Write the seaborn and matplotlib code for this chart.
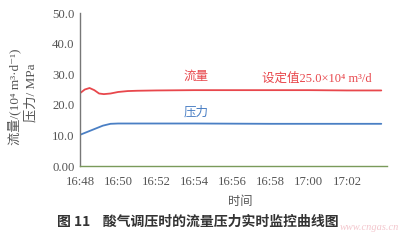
import matplotlib
matplotlib.use("Agg")
import matplotlib.pyplot as plt
import seaborn as sns
import pandas as pd

# data (minutes after 16:48)
flow_t = [0, 0.25, 0.5, 0.75, 1.0, 1.25, 1.6, 2.0, 2.5, 3.0, 4.0, 6.0, 8.0, 10.0, 12.0, 14.0, 15.8]
flow_v = [23.8, 25.0, 25.5, 24.8, 23.7, 23.5, 23.7, 24.2, 24.5, 24.6, 24.7, 24.8, 24.8, 24.8, 24.8, 24.7, 24.7]
press_t = [0, 0.4, 0.8, 1.2, 1.6, 2.0, 3.0, 6.0, 10.0, 15.8]
press_v = [10.2, 11.2, 12.2, 13.2, 13.8, 13.9, 13.9, 13.9, 13.8, 13.8]
xtick_pos = [0, 2, 4, 6, 8, 10, 12, 14]
xtick_labels = ["16:48", "16:50", "16:52", "16:54", "16:56", "16:58", "17:00", "17:02"]
ytick_pos = [0, 10, 20, 30, 40, 50]
ytick_labels = ["0.00", "10.0", "20.0", "30.0", "40.0", "50.0"]

sns.set_theme(style="white")
plt.rcParams['font.family'] = ['Liberation Serif', 'Noto Sans CJK SC', 'DejaVu Sans']

red = "#e8474c"
blue = "#4a7fc4"
txt = "#555555"

fig = plt.figure(figsize=(4.0, 2.41), dpi=100)
ax = fig.add_axes([0.2, 0.311, 0.7675, 0.635])

df_f = pd.DataFrame({"t": flow_t, "v": flow_v})
df_p = pd.DataFrame({"t": press_t, "v": press_v})
sns.lineplot(data=df_f, x="t", y="v", ax=ax, color=red, lw=1.3, sort=False, estimator=None)
sns.lineplot(data=df_p, x="t", y="v", ax=ax, color=blue, lw=1.3, sort=False, estimator=None)

ax.set_xlim(0, 16.1)
ax.set_ylim(0, 50)
ax.set_xticks(xtick_pos)
ax.set_xticklabels(xtick_labels)
ax.set_yticks(ytick_pos)
ax.set_yticklabels(ytick_labels)
ax.tick_params(axis='both', direction='in', length=4, width=0.8, labelsize=9.2,
               colors="#666666", labelcolor=txt, pad=4)
ax.tick_params(axis='x', pad=7)
for s in ["top", "right"]:
    ax.spines[s].set_visible(False)
ax.spines["left"].set_color("#777777")
ax.spines["bottom"].set_color("#7a9a5a")
ax.spines["left"].set_linewidth(1.0)
ax.spines["bottom"].set_linewidth(1.0)
ax.set_xlabel("")
ax.set_ylabel("")

fig.text(0.6, 1 - 201 / 241, "时间", ha="center", va="center", fontsize=8.8, color=txt,
         family=['Noto Sans CJK SC', 'DejaVu Sans'])
fig.text(0.036, 0.598, "流量/(10⁴ m³·d⁻¹)", rotation=90, ha="center", va="center",
         fontsize=9.5, color=txt)
fig.text(0.079, 0.615, "压力/ MPa", rotation=90, ha="center", va="center",
         fontsize=9.5, color=txt)

ax.text(6.07, 29.0, "流量", color=red, fontsize=9, ha="center", va="center")
ax.text(12.4, 28.4, "设定值25.0×10⁴ m³/d", color=red, fontsize=9, ha="center", va="center")
ax.text(6.07, 17.6, "压力", color=blue, fontsize=9, ha="center", va="center")

fig.text(0.143, 1 - 222 / 241, "图 11    酸气调压时的流量压力实时监控曲线图", ha="left", va="center",
         fontsize=10, fontweight="bold", color="#333333",
         family=['Noto Sans CJK SC', 'DejaVu Sans'])
fig.text(0.997, 1 - 228 / 241, "www.cngas.cn", ha="right", va="center", fontsize=7.5,
         style="italic", color="#f0b8c0", alpha=0.8)

fig.savefig("out.png", dpi=100)
